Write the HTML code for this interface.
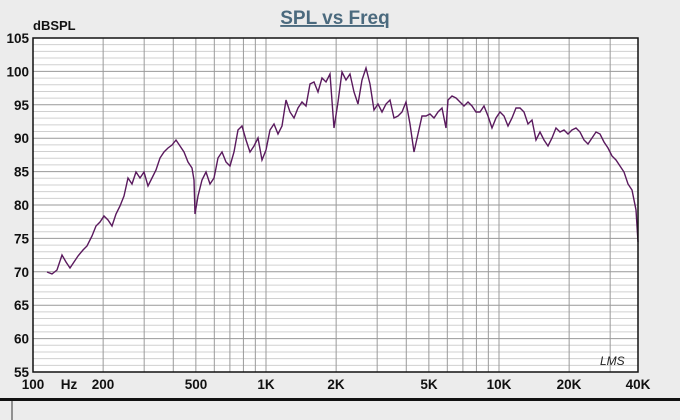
<!DOCTYPE html>
<html><head><meta charset="utf-8"><style>
html,body{margin:0;padding:0;background:#ececec;}
svg{display:block;font-family:"Liberation Sans",Arial,sans-serif;}
</style></head><body>
<svg width="680" height="420" viewBox="0 0 680 420" xmlns="http://www.w3.org/2000/svg">
<rect width="680" height="420" fill="#ececec"/>
<rect x="33" y="38" width="605" height="334" fill="#ffffff"/>
<g id="grid"></g>
<text x="335" y="24" text-anchor="middle" font-size="19" font-weight="bold" fill="#4b6a7e" text-decoration="underline">SPL vs Freq</text>
<text x="33" y="30" font-size="13" font-weight="bold" fill="#111">dBSPL</text>
<g font-size="13.5" font-weight="bold" fill="#111" text-anchor="end" id="ylab"></g>
<g font-size="13.5" font-weight="bold" fill="#111" text-anchor="middle">
<text x="33" y="389">100</text><text x="69" y="389">Hz</text>
<text x="103" y="389">200</text><text x="196" y="389">500</text>
<text x="266" y="389">1K</text><text x="336" y="389">2K</text>
<text x="429" y="389">5K</text><text x="499" y="389">10K</text>
<text x="569" y="389">20K</text><text x="638" y="389">40K</text>
</g>
<text x="600" y="365" font-size="12" font-style="italic" fill="#222">LMS</text>
<polyline fill="none" stroke="#5a1a5e" stroke-width="1.4" points="47,272 52,274 57,270 62,255 66,262 70,268 74,262 78,256 83,250 87,246 92,236 96,226 100,222 104,216 108,220 112,226 116,214 120,206 124,196 128,178 132,184 136,172 140,178 144,172 148,186 152,178 156,170 160,158 164,152 168,148 172,145 176,140 180,146 184,152 188,162 192,168 194,180 195,214 198,196 202,180 206,172 210,184 214,178 218,158 222,152 226,162 230,166 234,152 238,130 242,126 246,140 250,152 254,146 258,138 262,160 266,150 270,130 274,124 278,134 282,126 286,100 290,112 294,118 298,108 302,102 306,106 310,84 314,82 318,92 322,78 326,82 330,74 334,128 338,102 342,72 346,80 350,74 354,92 358,104 362,80 366,68 370,84 374,110 378,104 382,112 386,104 390,100 394,118 398,116 402,112 406,102 410,124 414,152 418,134 422,116 426,116 430,114 434,118 438,112 442,108 446,128 448,100 452,96 456,98 460,102 464,106 468,102 472,106 476,112 480,112 484,106 488,116 492,128 496,118 500,112 504,116 508,126 512,118 516,108 520,108 524,112 528,124 532,120 536,140 540,132 544,140 548,146 552,138 556,128 560,132 564,130 568,134 572,130 576,128 580,132 584,140 588,144 592,138 596,132 600,134 604,142 608,148 612,156 616,160 620,166 624,172 628,184 632,190 636,210 638,242"/>
<rect x="33" y="38" width="605" height="334" fill="none" stroke="#111" stroke-width="1.5"/>
<rect x="0" y="398" width="680" height="3" fill="#111"/>
<line x1="12" y1="401" x2="12" y2="420" stroke="#333" stroke-width="1"/>
<script>
(function(){
var ns="http://www.w3.org/2000/svg",g=document.getElementById("grid"),yl=document.getElementById("ylab");
function ln(x1,y1,x2,y2,c){var l=document.createElementNS(ns,"line");l.setAttribute("x1",x1);l.setAttribute("y1",y1);l.setAttribute("x2",x2);l.setAttribute("y2",y2);l.setAttribute("stroke",c);l.setAttribute("stroke-width",1);g.appendChild(l);}
for(var d=0;d<=50;d++){var y=38+d*334/50;ln(33,y,638,y,d%5==0?"#999":"#d0d0d0");}
for(var i=0;i<=10;i++){var t=document.createElementNS(ns,"text");t.setAttribute("x",29);t.setAttribute("y",38+i*33.4+5);t.textContent=105-5*i;yl.appendChild(t);}
var fs=[200,300,400,500,600,700,800,900,1000,2000,3000,4000,5000,6000,7000,8000,9000,10000,20000,30000];
fs.forEach(function(f){var x=33+233*Math.log10(f/100);ln(x,38,x,372,"#9a9a9a");});
})();
</script>
</svg>
</body></html>
